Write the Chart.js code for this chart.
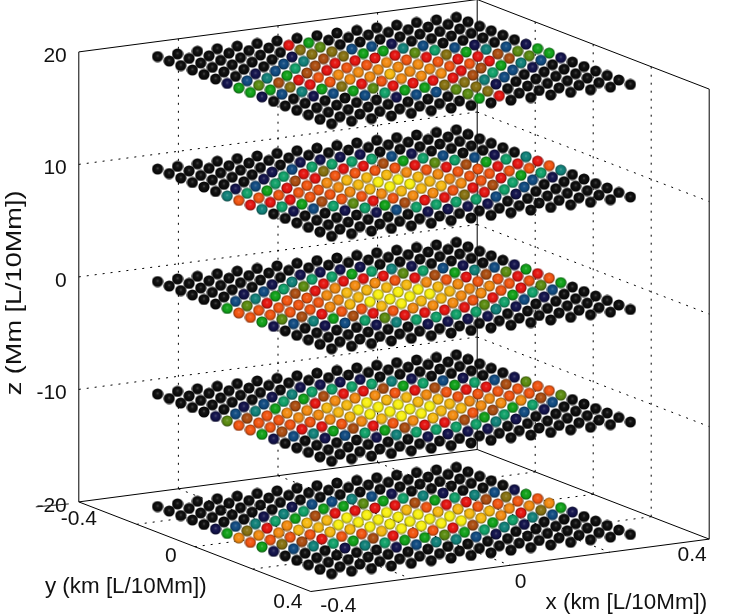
<!DOCTYPE html>
<html>
<head>
<meta charset="utf-8">
<style>
  html, body { margin: 0; padding: 0; background: #fff; }
  canvas { display: block; }
</style>
<script src="https://cdn.jsdelivr.net/npm/chart.js@4"></script>
</head>
<body>
<canvas id="chart" width="734" height="616"></canvas>
<script>
// grid positions of the points (km)
const gridCoords = [-0.3, -0.26, -0.22, -0.18, -0.14, -0.1, -0.06, -0.02, 0.02, 0.06, 0.1, 0.14, 0.18, 0.22, 0.26, 0.3];
const layerHeights = [20, 10, 0, -10, -20];

// colour level of each point, one row per y position, 0 = black ... 13 = yellow
const levelsZ20 = [
  [0,0,0,0,0,0,0,0,0,0,0,0,0,0,0,0],
  [0,0,0,0,0,0,9,5,0,0,0,0,0,0,0,0],
  [0,0,0,0,0,0,7,6,0,0,0,0,0,0,0,0],
  [0,0,0,0,0,1,7,7,2,2,1,0,0,0,0,0],
  [0,0,0,0,2,3,8,7,5,5,3,2,0,0,0,0],
  [0,0,1,2,4,8,9,9,9,9,6,4,2,1,0,0],
  [1,2,3,5,8,9,10,10,11,10,9,7,5,3,2,1],
  [5,6,8,9,10,11,11,11,11,11,10,9,9,8,6,5],
  [5,5,7,9,10,11,11,12,11,11,10,10,9,8,6,5],
  [1,2,3,5,7,9,10,11,11,11,9,8,5,3,2,1],
  [0,0,1,2,5,6,9,9,9,9,8,4,2,1,0,0],
  [0,0,0,0,2,4,5,5,7,7,3,2,0,0,0,0],
  [0,0,0,0,0,1,2,2,6,7,1,0,0,0,0,0],
  [0,0,0,0,0,0,0,0,6,7,0,0,0,0,0,0],
  [0,0,0,0,0,0,0,0,5,9,0,0,0,0,0,0],
  [0,0,0,0,0,0,0,0,0,0,0,0,0,0,0,0]
];
const levelsZ10 = [
  [0,0,0,0,0,0,0,0,0,0,0,0,0,0,0,0],
  [0,0,0,0,0,0,0,0,0,0,0,0,0,0,0,0],
  [0,0,0,0,0,0,1,1,1,1,0,0,0,0,0,0],
  [0,0,0,0,1,2,4,4,4,4,2,1,0,0,0,0],
  [0,0,0,1,4,9,7,9,9,8,5,4,2,0,0,0],
  [0,1,2,4,8,9,10,10,10,10,9,6,4,2,1,0],
  [3,4,5,9,10,11,12,12,12,11,10,9,8,5,4,3],
  [10,10,10,10,10,11,12,13,13,12,11,10,10,9,9,9],
  [9,9,9,10,10,11,12,13,13,12,11,10,10,10,10,10],
  [3,4,5,8,10,10,11,12,12,12,11,10,9,5,4,3],
  [0,1,2,4,6,9,10,11,11,10,9,8,4,2,1,0],
  [0,0,0,1,4,5,8,9,9,7,9,4,2,0,0,0],
  [0,0,0,0,1,2,4,4,4,4,2,1,0,0,0,0],
  [0,0,0,0,0,0,1,1,1,1,0,0,0,0,0,0],
  [0,0,0,0,0,0,0,0,0,0,0,0,0,0,0,0],
  [0,0,0,0,0,0,0,0,0,0,0,0,0,0,0,0]
];
const levelsZ0 = [
  [0,0,0,0,0,0,0,0,0,0,0,0,0,0,0,0],
  [0,0,0,0,0,0,0,0,0,0,0,0,0,0,0,0],
  [0,0,0,0,0,0,1,1,1,1,0,0,0,0,0,0],
  [0,0,0,0,1,3,4,4,5,4,3,1,0,0,0,0],
  [0,0,1,2,4,6,9,9,9,9,6,4,2,1,0,0],
  [0,2,3,5,8,9,11,11,11,10,9,8,5,3,2,1],
  [5,6,9,10,10,11,12,12,12,12,11,10,9,8,6,5],
  [10,10,10,10,10,11,12,13,13,13,12,11,10,10,9,9],
  [10,10,10,10,11,12,13,13,13,13,12,11,11,10,10,10],
  [5,6,8,9,10,10,12,13,12,12,11,11,10,9,6,5],
  [1,2,3,5,8,9,10,11,11,11,10,9,5,4,2,0],
  [0,0,1,2,4,6,9,9,9,9,6,4,2,1,0,0],
  [0,0,0,0,1,3,4,4,4,4,3,1,0,0,0,0],
  [0,0,0,0,0,0,1,1,1,1,0,0,0,0,0,0],
  [0,0,0,0,0,0,0,0,0,0,0,0,0,0,0,0],
  [0,0,0,0,0,0,0,0,0,0,0,0,0,0,0,0]
];
const levelsZm10 = [
  [0,0,0,0,0,0,0,0,0,0,0,0,0,0,0,0],
  [0,0,0,0,0,0,0,0,0,0,0,0,0,0,0,0],
  [0,0,0,0,0,0,1,1,1,1,0,0,0,0,0,0],
  [0,0,0,0,1,3,4,4,4,4,3,1,0,0,0,0],
  [0,0,1,2,4,5,8,9,9,8,5,4,2,1,0,0],
  [1,2,3,5,8,9,11,11,11,10,9,8,5,4,2,1],
  [6,8,10,11,11,12,12,13,12,12,11,10,9,9,8,6],
  [10,10,10,11,11,12,13,13,13,12,12,10,10,10,10,10],
  [10,10,10,10,11,12,13,13,13,13,12,11,11,10,10,10],
  [5,8,9,9,10,11,12,13,13,12,12,11,11,11,8,6],
  [1,2,3,5,8,9,10,11,12,11,10,8,5,4,2,0],
  [0,0,1,2,4,5,8,9,9,8,5,4,2,1,0,0],
  [0,0,0,0,1,3,4,4,4,4,3,1,0,0,0,0],
  [0,0,0,0,0,0,1,1,1,1,0,0,0,0,0,0],
  [0,0,0,0,0,0,0,0,0,0,0,0,0,0,0,0],
  [0,0,0,0,0,0,0,0,0,0,0,0,0,0,0,0]
];
const levelsZm20 = [
  [0,0,0,0,0,0,0,0,0,0,0,0,0,0,0,0],
  [0,0,0,0,0,0,0,0,0,0,0,0,0,0,0,0],
  [0,0,0,0,0,0,0,0,0,0,0,0,0,0,0,0],
  [0,0,0,0,0,1,2,2,3,2,1,0,0,0,0,0],
  [0,0,0,1,3,4,5,5,6,5,4,3,1,0,0,0],
  [1,2,3,4,5,8,9,9,9,9,8,5,4,3,2,1],
  [5,7,9,11,12,12,13,13,13,12,10,9,9,8,7,5],
  [11,11,11,12,12,13,13,13,13,13,12,12,10,10,10,10],
  [10,10,10,10,12,12,13,13,13,13,13,12,12,11,11,11],
  [5,7,8,9,10,10,12,13,13,13,13,12,11,9,7,5],
  [1,2,3,4,5,8,9,10,10,9,8,5,4,3,2,1],
  [0,0,0,1,3,4,5,5,6,5,4,3,1,0,0,0],
  [0,0,0,0,0,1,2,3,3,2,1,0,0,0,0,0],
  [0,0,0,0,0,0,0,0,0,0,0,0,0,0,0,0],
  [0,0,0,0,0,0,0,0,0,0,0,0,0,0,0,0],
  [0,0,0,0,0,0,0,0,0,0,0,0,0,0,0,0]
];
const layerLevels = [levelsZ20, levelsZ10, levelsZ0, levelsZm10, levelsZm20];

// colormap
const levelColors = ["#0c0c0c", "#12124a", "#104a80", "#108078", "#10a068", "#10a018", "#5a8a10",
  "#857010", "#aa4c10", "#e41410", "#f05410", "#f28a10", "#f6b810", "#f8f010"];

// axes
const boxX = [-0.4, 0.4];
const boxY = [-0.4, 0.4];
const boxZ = [-20, 20];
const gridX = [-0.2, 0, 0.2];
const gridY = [-0.2, 0, 0.2];
const gridZ = [-10, 0, 10];
const xTicks = [-0.4, 0, 0.4];
const yTicks = [-0.4, 0, 0.4];
const zTicks = [20, 10, 0, -10, -20];

// label nudges from the tick position, same order as the ticks
const xTickShift = [[27.5, 15], [10.5, 17], [-17, 16]];
const yTickShift = [[0, 17], [-24, 10], [-23, 10.5]];

// orthographic view of the 3d box, in chart units
const view = { cx: 394, cy: 295.5, xx: 498, xy: -65.5, yx: 290, yy: 112, zy: -11.25 };
function project(x, y, z) {
  return {
    x: view.cx + x * view.xx + y * view.yx,
    y: view.cy + x * view.xy + y * view.yy + z * view.zy
  };
}

// shaded ball used as the point style
function makeBall(color) {
  const size = 12, r = 5.6;
  const c = document.createElement("canvas");
  c.width = size;
  c.height = size;
  const g = c.getContext("2d");
  const grad = g.createRadialGradient(size / 2, size / 2 - 0.8, 0.2, size / 2, size / 2, r);
  grad.addColorStop(0, mix(color, "#ffffff", 0.26));
  grad.addColorStop(0.24, mix(color, "#ffffff", 0.05));
  grad.addColorStop(0.62, color);
  grad.addColorStop(0.88, mix(color, "#000000", 0.3));
  grad.addColorStop(1, mix(color, "#000000", 0.55));
  g.fillStyle = grad;
  g.beginPath();
  g.arc(size / 2, size / 2, r, 0, Math.PI * 2);
  g.fill();
  return c;
}
function mix(a, b, t) {
  const pa = parseInt(a.slice(1), 16), pb = parseInt(b.slice(1), 16);
  const ch = s => Math.round(((pa >> s) & 255) * (1 - t) + ((pb >> s) & 255) * t);
  return `rgb(${ch(16)},${ch(8)},${ch(0)})`;
}
const ballImages = levelColors.map(makeBall);

function lineDataset(from, to, dotted) {
  return {
    type: "line",
    data: [project(...from), project(...to)],
    borderColor: "#000",
    borderWidth: 1,
    borderDash: dotted ? [2, 6] : [],
    pointRadius: 0,
    fill: false,
    clip: false,
    order: 10
  };
}

const datasets = [];
const [x0, x1] = boxX, [y0, y1] = boxY, [z0, z1] = boxZ;

// box edges: floor, back verticals and back top
[
  [[x0, y0, z0], [x1, y0, z0]], [[x1, y0, z0], [x1, y1, z0]],
  [[x1, y1, z0], [x0, y1, z0]], [[x0, y1, z0], [x0, y0, z0]],
  [[x0, y0, z0], [x0, y0, z1]], [[x1, y0, z0], [x1, y0, z1]], [[x1, y1, z0], [x1, y1, z1]],
  [[x0, y0, z1], [x1, y0, z1]], [[x1, y0, z1], [x1, y1, z1]]
].forEach(e => datasets.push(lineDataset(e[0], e[1], false)));

// dotted grid on the floor and the two back walls
gridX.forEach(x => {
  datasets.push(lineDataset([x, y0, z0], [x, y1, z0], true));
  datasets.push(lineDataset([x, y0, z0], [x, y0, z1], true));
});
gridY.forEach(y => {
  datasets.push(lineDataset([x0, y, z0], [x1, y, z0], true));
  datasets.push(lineDataset([x1, y, z0], [x1, y, z1], true));
});
gridZ.forEach(z => {
  datasets.push(lineDataset([x0, y0, z], [x1, y0, z], true));
  datasets.push(lineDataset([x1, y0, z], [x1, y1, z], true));
});

// one scatter dataset per layer
layerHeights.forEach((z, k) => {
  const pts = [];
  layerLevels[k].forEach((row, j) => {
    row.forEach((level, i) => {
      pts.push(Object.assign(project(gridCoords[i], gridCoords[j], z), { level: level }));
    });
  });
  datasets.push({
    type: "scatter",
    data: pts,
    pointStyle: c => ballImages[c.raw.level],
    pointRadius: 5,
    order: 1
  });
});

// tick labels and axis titles, placed relative to the projected box
const axisLabels = {
  id: "axisLabels",
  afterDraw(chart) {
    const { ctx, scales } = chart;
    const px = v => scales.x.getPixelForValue(v);
    const py = v => scales.y.getPixelForValue(v);
    ctx.save();
    ctx.fillStyle = "#111";
    ctx.textBaseline = "middle";

    ctx.font = "21px 'Liberation Sans', Arial, sans-serif";
    ctx.textAlign = "right";
    zTicks.forEach(z => {
      const p = project(x0, y0, z);
      ctx.fillText(String(z), px(p.x) - 12, py(p.y) + 4);
    });
    ctx.textAlign = "center";
    xTicks.forEach((x, k) => {
      const p = project(x, y1, z0);
      ctx.fillText(String(x), px(p.x) + xTickShift[k][0], py(p.y) + xTickShift[k][1]);
    });
    yTicks.forEach((y, k) => {
      const p = project(x0, y, z0);
      ctx.fillText(String(y), px(p.x) + yTickShift[k][0], py(p.y) + yTickShift[k][1]);
    });

    ctx.font = "22.4px 'Liberation Sans', Arial, sans-serif";
    const xTitle = project(0.3, y1, z0);
    ctx.fillText("x (km [L/10Mm])", px(xTitle.x) - 33, py(xTitle.y) + 57);
    const yTitle = project(x0, -0.1, z0);
    ctx.fillText("y (km [L/10Mm])", px(yTitle.x) - 40, py(yTitle.y) + 51);

    // z title is drawn a bit wider than the others, as in the source figure
    ctx.save();
    ctx.font = "21.5px 'Liberation Sans', Arial, sans-serif";
    ctx.translate(15, py(project(x0, y0, 0).y) + 16);
    ctx.rotate(-Math.PI / 2);
    ctx.scale(1.26, 1);
    ctx.fillText("z (Mm [L/10Mm])", 0, 0);
    ctx.restore();

    // stray tick running through the -20 label
    const corner = project(x0, y0, z0);
    ctx.strokeStyle = "#222";
    ctx.lineWidth = 1;
    ctx.beginPath();
    ctx.moveTo(px(corner.x) - 43, py(corner.y) + 5);
    ctx.lineTo(px(corner.x) - 10, py(corner.y) + 2);
    ctx.stroke();
    ctx.restore();
  }
};

new Chart(document.getElementById("chart").getContext("2d"), {
  type: "scatter",
  data: { datasets: datasets },
  options: {
    responsive: false,
    animation: false,
    events: [],
    layout: { padding: 0, autoPadding: false },
    plugins: { legend: { display: false }, tooltip: { enabled: false } },
    scales: {
      x: { type: "linear", min: 0, max: 734, display: false },
      y: { type: "linear", min: 0, max: 616, reverse: true, display: false }
    }
  },
  plugins: [axisLabels]
});
</script>
</body>
</html>
